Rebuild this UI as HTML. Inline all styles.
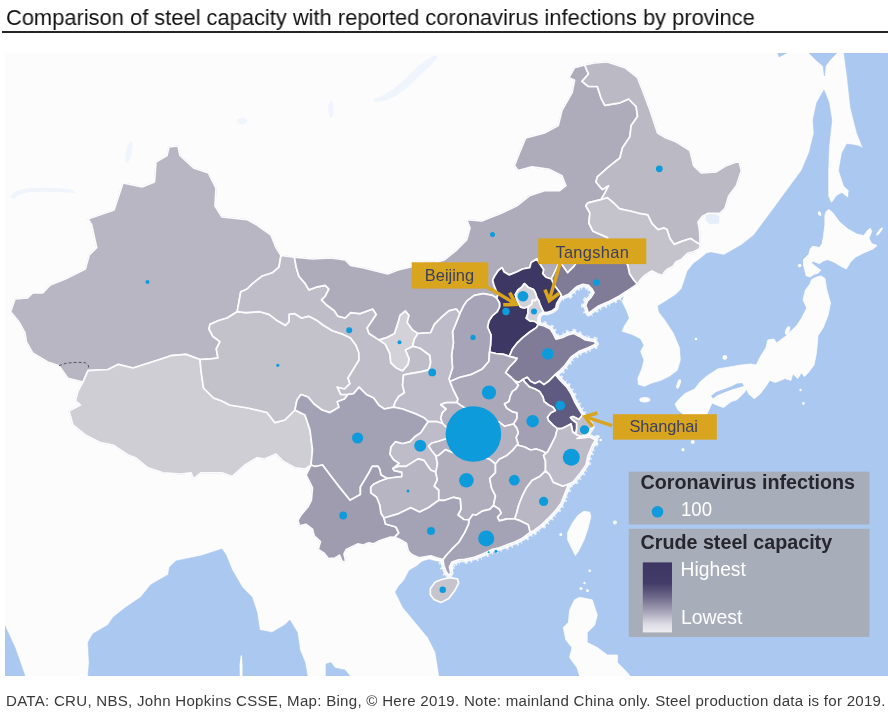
<!DOCTYPE html>
<html lang="en"><head><meta charset="utf-8"><title>Comparison of steel capacity with reported coronavirus infections by province</title>
<style>
html,body{margin:0;padding:0;background:#fff;}
body{width:888px;height:717px;position:relative;overflow:hidden;font-family:"Liberation Sans",Arial,sans-serif;}
#title{will-change:transform;transform:scaleX(0.9767);transform-origin:0 0;position:absolute;left:5.6px;top:4.9px;font-size:22.4px;line-height:26px;color:#111;white-space:nowrap;letter-spacing:0px;}
#rule{position:absolute;left:1.5px;top:31.1px;width:886.5px;height:1.8px;background:#262626;}
#map{will-change:transform;position:absolute;left:0;top:0;width:888px;height:717px;}
#foot{will-change:transform;position:absolute;left:5.5px;top:691.9px;font-size:15.05px;letter-spacing:0.283px;line-height:18px;color:#3a3a3a;white-space:nowrap;}
svg text{font-family:"Liberation Sans",Arial,sans-serif;}
</style></head><body>
<div id="title">Comparison of steel capacity with reported coronavirus infections by province</div>
<div id="rule"></div>
<svg id="map" viewBox="0 0 888 717" width="888" height="717">
<defs><clipPath id="mc"><rect x="5" y="53" width="883" height="623"/></clipPath>
<linearGradient id="sw" x1="0" y1="0" x2="0" y2="1"><stop offset="0" stop-color="#3d3663"/><stop offset="0.3" stop-color="#433c69"/><stop offset="0.5" stop-color="#6f6a8a"/><stop offset="0.7" stop-color="#a6a2b8"/><stop offset="0.88" stop-color="#dcdae3"/><stop offset="1" stop-color="#efeef3"/></linearGradient>
<filter id="soft" x="-2%" y="-2%" width="104%" height="104%"><feGaussianBlur stdDeviation="0.55"/></filter>
</defs>
<g clip-path="url(#mc)">
<rect x="5" y="53" width="883" height="623" fill="#fcfcfd"/>
<g filter="url(#soft)">
<g fill="#abc8f0" stroke="#abc8f0" stroke-width="0.6" stroke-linejoin="round">
<polygon points="888.0,53.0 844.0,53.0 847.0,75.0 850.6,107.8 857.0,133.0 863.0,148.0 857.0,145.5 847.0,144.0 842.0,153.0 839.0,170.6 844.0,185.7 849.0,190.7 848.0,198.0 842.0,193.0 836.8,195.8 831.8,203.0 830.5,202.0 828.0,195.8 828.0,170.6 829.0,145.5 831.8,120.3 829.0,102.8 824.0,90.0 816.7,102.8 813.0,120.0 814.0,133.0 809.0,153.0 801.6,170.6 786.6,190.7 774.0,208.0 761.4,225.0 754.0,235.0 741.4,245.0 723.8,255.0 711.2,252.6 706.9,253.3 699.5,259.2 693.6,263.6 687.6,271.0 684.7,279.9 681.7,288.8 675.8,294.7 666.9,300.6 658.0,306.0 659.0,311.8 665.3,320.0 673.7,332.8 680.0,347.4 681.0,360.0 677.9,370.4 669.5,376.7 661.0,380.9 650.7,384.0 644.4,387.0 638.0,385.0 637.0,378.8 641.3,368.3 643.3,360.0 640.0,351.6 643.3,345.3 640.0,339.0 631.8,334.9 621.4,331.7 623.5,326.5 628.7,318.0 625.6,309.7 621.4,301.4 625.6,291.0 631.0,288.5 612.0,285.0 585.0,272.0 560.0,280.0 540.0,300.0 530.0,318.0 535.0,335.0 560.0,350.0 555.0,380.0 570.0,420.0 575.0,438.0 570.0,480.0 540.0,520.0 500.0,540.0 460.0,555.0 446.0,558.0 444.0,562.0 436.6,561.5 428.8,559.5 422.0,561.8 416.1,566.6 409.3,570.5 404.4,580.0 399.0,586.0 395.4,592.0 403.0,607.4 415.5,622.4 428.0,637.5 435.6,652.6 439.3,676.0 888.0,676.0"/>
<polygon points="809.0,53.0 836.8,53.0 830.0,60.0 825.5,66.0 824.5,76.0 823.0,66.0 816.0,60.0"/>
<polygon points="777.8,53.0 786.6,53.0 779.0,57.0"/>
<polygon points="222.0,549.0 201.0,555.8 176.0,560.9 169.6,567.0 168.3,574.7 150.8,584.7 140.7,597.3 125.6,607.4 113.0,617.4 108.0,625.0 93.0,633.7 88.0,642.5 89.2,662.6 88.0,676.0 307.4,676.0 305.0,662.6 299.9,650.0 297.4,632.5 289.8,620.0 284.8,625.0 272.0,632.5 259.7,630.0 257.0,612.4 252.0,597.3 242.0,587.0 232.0,569.7 226.0,555.0"/>
<polygon points="5.0,626.0 15.0,647.6 25.0,676.0 5.0,676.0"/>
<polygon points="326.0,676.0 326.0,664.0 331.0,662.6 335.0,668.0 345.0,670.0 350.0,676.0"/>
</g>
<g fill="#f0f4fc">
<polygon points="706.0,214.5 713.0,213.5 719.5,216.0 719.0,223.5 710.0,224.5 705.5,220.0" fill="#e6eefa"/>
<polygon points="373,99 380,97 392,90 404,80 416,68 426,60 435,55 438,57 430,66 420,75 408,87 396,96 384,101 375,102"/>
<path d="M10 197 Q14 189 30 188 Q55 187 74 190 L75 193 Q52 191 32 192 Q18 193 14 199 Z"/>
<ellipse cx="129" cy="152" rx="3" ry="11" transform="rotate(12 129 152)"/>
<ellipse cx="331" cy="109" rx="2.6" ry="9"/>
<ellipse cx="242" cy="121" rx="5" ry="3.4"/>
</g>
<g fill="#fcfcfd" stroke="#fcfcfd" stroke-width="0.8" stroke-linejoin="round">
<polygon points="828.9,209.4 832.9,212.8 839.6,222.1 847.6,228.8 857.0,234.2 863.7,235.5 867.7,230.2 870.4,228.2 871.7,231.5 869.0,238.2 871.7,243.5 877.1,245.6 873.1,248.9 863.7,252.9 855.7,256.9 850.3,262.3 846.3,269.0 840.9,266.3 834.3,262.3 827.6,259.6 823.5,260.9 819.5,263.6 815.5,262.3 812.8,260.9 811.5,263.0 815.5,266.3 820.9,270.3 818.2,273.0 814.2,274.3 810.2,277.0 806.1,275.7 804.8,270.3 803.5,265.0 803.5,259.6 808.8,254.3 810.2,248.9 812.8,246.2 819.5,247.6 822.2,243.5 823.5,235.5 824.9,224.8 824.9,215.4 826.2,211.4"/>
<polygon points="815.5,277.4 820.9,275.9 824.9,278.4 826.8,290.0 830.5,303.0 828.0,315.5 823.0,328.0 818.0,335.6 816.7,350.0 816.0,355.4 814.0,365.0 808.2,372.7 804.4,376.6 801.5,372.7 797.7,378.5 792.8,373.7 790.9,380.4 785.1,378.5 775.5,382.4 769.7,380.4 765.9,386.2 760.1,393.9 754.3,398.7 748.6,393.9 746.6,389.0 744.7,392.0 737.0,399.7 731.2,401.6 723.5,407.4 717.8,405.5 712.0,403.0 710.0,407.4 706.0,416.0 700.0,425.0 693.0,432.0 688.0,425.0 683.0,414.0 678.0,410.0 675.0,404.0 679.3,399.0 685.0,393.5 694.7,389.0 700.0,382.0 706.2,376.6 717.8,368.9 729.3,367.0 740.9,365.0 750.5,364.0 756.3,365.0 760.0,357.3 765.9,347.7 767.8,340.0 774.0,339.0 776.5,343.0 786.6,335.6 796.7,325.5 801.7,318.0 806.7,308.0 803.0,300.0 805.4,290.0 810.0,284.0 811.5,279.7"/>
<polygon points="584.0,511.2 589.8,512.2 590.8,517.0 587.9,528.6 584.0,540.1 578.2,551.7 575.4,555.5 571.5,547.8 567.7,540.1 567.7,532.4 572.5,522.8 578.2,515.1"/>
<polygon points="579.7,597.3 592.2,599.8 597.3,614.9 594.7,625.0 587.2,632.5 587.2,642.5 597.3,647.6 607.3,655.0 617.4,655.0 617.4,662.6 627.4,672.7 630.0,676.0 579.7,676.0 577.0,667.7 569.6,657.6 572.0,647.6 565.9,640.0 563.3,627.5 568.4,622.4 569.6,610.0 574.6,599.8"/>
</g>
<polygon points="711.0,396.0 716.0,392.0 723.0,389.5 731.0,386.5 737.0,383.5 742.0,383.0 744.0,386.0 739.0,387.5 732.0,389.5 724.0,392.5 717.0,395.5 713.0,398.5" fill="#abc8f0"/>
<g fill="#fcfcfd">
<ellipse cx="644.8" cy="399.7" rx="5.6" ry="2.8"/>
<ellipse cx="678.6" cy="384" rx="1.8" ry="5" transform="rotate(18 678.6 384)"/>
<ellipse cx="787.6" cy="330.4" rx="2.1" ry="4.6" transform="rotate(22 787.6 330.4)"/><circle cx="724.8" cy="357.4" r="2.4"/><circle cx="696" cy="339" r="1.3"/>
<circle cx="692.7" cy="442" r="2"/><circle cx="683" cy="449.7" r="1.6"/><circle cx="803.4" cy="403.5" r="1.4"/><circle cx="800.5" cy="390" r="1.2"/>
<circle cx="581" cy="588.5" r="1.6"/><circle cx="587.5" cy="590.5" r="1.5"/><circle cx="584.5" cy="583" r="1.2"/>
<circle cx="598" cy="436.6" r="1.6"/><circle cx="600.6" cy="440" r="1.3"/><circle cx="597" cy="443.4" r="1.2"/>
<circle cx="614.9" cy="522.6" r="2"/><circle cx="560.8" cy="534.4" r="1.5"/><circle cx="589.7" cy="570.8" r="1.3"/><ellipse cx="819.6" cy="213.6" rx="1.5" ry="2.4" transform="rotate(-25 819.6 213.6)"/><circle cx="799.7" cy="265.6" r="1.8"/><ellipse cx="879.5" cy="231.5" rx="1.3" ry="5" transform="rotate(38 879.5 231.5)"/>
</g>
<polygon points="239.8,676 239.6,664 240.6,656 242,655 242.4,664 242.6,676" fill="#fcfcfd"/>
<g fill="none" stroke="#ffffff" stroke-linejoin="round" stroke-linecap="butt">
<polyline points="637.3,284.3 631.0,288.5 625.5,292.0 619.5,296.0 609.0,301.5 598.5,306.0 591.0,311.5 588.5,313.5 586.7,308.0 585.7,305.3 587.6,300.8 591.2,297.1 594.0,292.6 592.0,289.0 588.5,285.4 583.0,284.4 577.6,286.3 574.0,289.0 568.5,294.4 564.0,296.2 560.4,297.1" stroke-width="5.6" stroke-opacity="0.85"/>
<polyline points="560.4,297.1 556.7,303.5 555.8,308.0 552.2,310.7 546.8,312.6 543.5,312.0" stroke-width="5.6" stroke-opacity="0.85"/>
<polyline points="543.5,312.0 539.5,314.5 538.0,318.0 538.3,324.4" stroke-width="5.6" stroke-opacity="0.85"/>
<polyline points="538.3,324.4 544.4,326.0 550.3,329.0 553.2,333.5 556.1,339.3 562.0,337.8 567.8,334.9 573.7,333.5 579.6,336.4 585.4,340.0 594.2,341.5 596.0,343.9 588.2,347.7 578.6,351.6 570.9,357.3 565.1,365.0 559.4,371.0 555.3,374.5" stroke-width="5.6" stroke-opacity="0.85"/>
<polyline points="555.3,374.5 559.8,380.0 566.6,386.9 571.0,393.6 574.5,401.5 579.0,409.4 582.5,415.0" stroke-width="5.6" stroke-opacity="0.85"/>
<polyline points="582.5,415.0 588.0,420.0 592.0,427.0 588.0,433.0 581.0,436.5" stroke-width="5.6" stroke-opacity="0.85"/>
<polyline points="581.0,436.5 577.0,438.5 583.0,438.0 590.0,437.0 595.5,440.0 592.0,446.0 588.0,455.5 586.0,465.0 580.0,473.5 573.0,482.0 568.6,484.3" stroke-width="5.6" stroke-opacity="0.85"/>
<polyline points="568.6,484.3 564.8,493.9 560.9,503.5 555.1,511.2 549.4,517.0 541.7,524.7 534.0,530.5 530.1,532.4" stroke-width="5.6" stroke-opacity="0.85"/>
<polyline points="530.1,532.4 522.4,538.2 514.7,542.0 507.0,544.9 499.3,547.8 491.6,549.7 483.9,553.6 474.3,557.4 464.7,559.4 458.6,559.8 452.0,562.0 449.5,567.0 450.8,573.0 448.6,575.2 445.9,571.3 443.9,565.4 443.0,559.5" stroke-width="5.6" stroke-opacity="0.85"/>
<polyline points="443.0,559.5 436.6,557.9 430.8,555.9 424.9,556.9 419.0,557.9" stroke-width="5.6" stroke-opacity="0.85"/>
<polyline points="637.3,284.3 631.0,288.5 625.5,292.0 619.5,296.0 609.0,301.5 598.5,306.0 591.0,311.5 588.5,313.5 586.7,308.0 585.7,305.3 587.6,300.8 591.2,297.1 594.0,292.6 592.0,289.0 588.5,285.4 583.0,284.4 577.6,286.3 574.0,289.0 568.5,294.4 564.0,296.2 560.4,297.1" stroke-width="9.5" stroke-opacity="0.7" stroke-dasharray="1.5 3 2.5 5 1 2.5 2 4"/>
<polyline points="538.3,324.4 544.4,326.0 550.3,329.0 553.2,333.5 556.1,339.3 562.0,337.8 567.8,334.9 573.7,333.5 579.6,336.4 585.4,340.0 594.2,341.5 596.0,343.9 588.2,347.7 578.6,351.6 570.9,357.3 565.1,365.0 559.4,371.0 555.3,374.5" stroke-width="9.5" stroke-opacity="0.7" stroke-dasharray="1.5 3 2.5 5 1 2.5 2 4"/>
<polyline points="555.3,374.5 559.8,380.0 566.6,386.9 571.0,393.6 574.5,401.5 579.0,409.4 582.5,415.0" stroke-width="9.5" stroke-opacity="0.7" stroke-dasharray="1.5 3 2.5 5 1 2.5 2 4"/>
<polyline points="581.0,436.5 577.0,438.5 583.0,438.0 590.0,437.0 595.5,440.0 592.0,446.0 588.0,455.5 586.0,465.0 580.0,473.5 573.0,482.0 568.6,484.3" stroke-width="9.5" stroke-opacity="0.7" stroke-dasharray="1.5 3 2.5 5 1 2.5 2 4"/>
<polyline points="568.6,484.3 564.8,493.9 560.9,503.5 555.1,511.2 549.4,517.0 541.7,524.7 534.0,530.5 530.1,532.4" stroke-width="9.5" stroke-opacity="0.7" stroke-dasharray="1.5 3 2.5 5 1 2.5 2 4"/>
<polyline points="530.1,532.4 522.4,538.2 514.7,542.0 507.0,544.9 499.3,547.8 491.6,549.7 483.9,553.6 474.3,557.4 464.7,559.4 458.6,559.8 452.0,562.0 449.5,567.0 450.8,573.0 448.6,575.2 445.9,571.3 443.9,565.4 443.0,559.5" stroke-width="9.5" stroke-opacity="0.7" stroke-dasharray="1.5 3 2.5 5 1 2.5 2 4"/>
</g>
<g stroke-linejoin="round">
<polygon points="83.0,382.0 67.8,378.3 59.0,365.7 47.7,362.0 32.7,353.0 26.4,341.8 25.0,333.0 18.8,321.7 10.6,311.7 15.0,299.0 27.6,297.9 32.7,292.8 42.7,292.8 50.3,285.0 65.3,279.0 85.4,269.0 89.2,255.0 96.7,247.6 91.7,225.0 88.0,219.0 114.0,210.0 123.0,183.0 142.0,187.0 154.5,182.0 156.0,162.0 167.0,155.5 169.0,147.0 178.0,146.0 180.0,155.5 193.5,168.0 208.5,173.0 216.0,188.0 215.0,206.0 222.0,217.0 247.0,219.6 257.0,225.0 271.0,235.0 276.0,247.6 281.0,255.5 279.0,267.2 272.6,272.7 261.7,276.3 252.6,283.6 247.2,289.0 240.8,291.7 239.0,301.7 237.2,311.7 227.2,318.0 218.0,320.8 210.0,324.4 209.0,329.0 212.7,336.2 220.0,341.6 216.3,348.9 218.0,358.0 210.9,358.9 200.0,359.5 186.0,354.4 170.9,355.7 155.8,360.7 133.0,368.0 118.0,364.4 108.0,369.5 88.0,370.7" fill="#b5b3c0" stroke="#b5b3c0" stroke-width="1.2"/>
<polygon points="83.0,382.0 88.0,370.7 108.0,369.5 118.0,364.4 133.0,368.0 155.8,360.7 170.9,355.7 186.0,354.4 200.0,359.5 201.0,370.7 203.5,388.0 213.6,398.0 222.0,401.0 229.5,405.0 248.0,408.0 267.0,412.5 274.8,422.6 284.8,420.0 294.9,410.0 305.0,415.0 310.0,430.0 312.5,450.0 311.0,465.0 305.0,469.0 294.9,467.8 283.5,461.5 276.0,454.0 264.7,459.0 257.0,457.8 244.6,465.3 232.0,476.6 222.0,472.8 201.0,472.8 193.5,479.0 191.0,472.8 181.0,474.0 163.0,472.8 148.0,467.8 135.7,457.8 128.0,455.0 113.0,445.0 100.5,442.7 85.4,435.0 72.9,425.0 69.0,411.0 80.4,405.0 75.4,401.0 78.0,391.0" fill="#b5b3c0" stroke="#b5b3c0" stroke-width="1.2"/>
<polygon points="200.0,359.5 210.9,358.9 218.0,358.0 216.3,348.9 220.0,341.6 212.7,336.2 209.0,329.0 210.0,324.4 218.0,320.8 227.2,318.0 237.2,311.7 245.4,312.6 259.9,311.7 269.0,314.4 276.2,319.9 285.3,325.3 289.0,321.7 289.0,314.4 294.4,313.5 301.6,318.0 308.9,316.2 316.2,319.9 323.4,325.3 332.5,330.7 343.4,334.4 350.6,338.0 356.0,345.3 358.8,352.5 359.0,360.0 353.6,369.0 348.0,378.0 350.0,383.6 344.5,389.0 337.3,387.2 340.9,394.5 348.0,394.5 344.5,399.0 337.3,401.7 339.0,407.2 330.0,412.6 322.0,410.0 314.0,404.0 308.0,397.0 301.0,394.5 297.0,400.0 294.9,410.0 284.8,420.0 274.8,422.6 267.0,412.5 248.0,408.0 229.5,405.0 222.0,401.0 213.6,398.0 203.5,388.0 201.0,370.7" fill="#b5b3c0" stroke="#b5b3c0" stroke-width="1.2"/>
<polygon points="281.0,255.5 294.4,257.2 296.2,267.2 298.9,276.3 305.3,283.6 308.9,289.9 316.2,287.2 325.2,285.4 328.9,289.0 325.2,296.3 321.6,299.9 327.0,305.3 334.3,310.8 337.9,316.2 345.2,318.0 350.6,312.6 360.0,313.6 372.7,309.0 376.3,314.5 370.9,322.6 367.2,328.0 369.0,333.5 379.0,339.9 385.4,344.4 389.9,353.5 390.8,362.6 396.3,368.0 402.6,370.7 408.0,364.4 409.0,358.9 405.3,349.9 412.6,346.2 419.9,348.0 429.8,355.3 430.7,362.6 428.9,369.8 420.7,371.8 409.9,373.6 403.5,375.0 402.6,385.4 404.4,392.7 399.0,396.3 395.3,401.7 393.5,407.2 384.4,409.0 379.0,405.4 373.6,398.0 366.3,394.5 359.0,387.2 353.6,393.6 348.0,394.5 340.9,394.5 337.3,387.2 344.5,389.0 350.0,383.6 348.0,378.0 353.6,369.0 359.0,360.0 358.8,352.5 356.0,345.3 350.6,338.0 343.4,334.4 332.5,330.7 323.4,325.3 316.2,319.9 308.9,316.2 301.6,318.0 294.4,313.5 289.0,314.4 289.0,321.7 285.3,325.3 276.2,319.9 269.0,314.4 259.9,311.7 245.4,312.6 237.2,311.7 239.0,301.7 240.8,291.7 247.2,289.0 252.6,283.6 261.7,276.3 272.6,272.7 279.0,267.2" fill="#b5b3c0" stroke="#b5b3c0" stroke-width="1.2"/>
<polygon points="379.0,339.9 387.2,337.2 394.4,333.5 398.0,322.6 399.9,315.4 405.3,310.8 409.0,315.4 407.2,322.6 412.6,329.9 418.0,333.5 414.4,339.0 412.6,346.2 405.3,349.9 409.0,358.9 408.0,364.4 402.6,370.7 396.3,368.0 390.8,362.6 389.9,353.5 385.4,344.4" fill="#b5b3c0" stroke="#b5b3c0" stroke-width="1.2"/>
<polygon points="294.4,257.2 312.5,259.0 330.7,258.0 345.2,260.0 350.6,265.4 362.7,267.7 377.8,271.5 387.8,274.0 397.9,270.0 413.0,266.5 425.0,262.0 437.0,262.0 444.0,260.0 456.6,250.0 466.6,240.0 470.0,228.0 466.6,219.6 481.7,221.0 501.8,213.0 516.9,205.8 529.4,195.8 544.5,190.7 559.6,190.7 565.9,185.7 562.0,175.7 549.5,169.4 532.0,166.9 518.0,170.6 514.4,165.6 519.4,153.0 525.7,138.0 544.5,133.0 558.3,125.4 562.0,110.3 572.1,92.7 574.6,80.2 568.9,77.7 574.6,67.6 584.7,65.0 588.5,74.0 582.0,81.4 588.5,86.5 597.3,86.5 601.0,97.8 604.8,105.3 620.0,102.8 628.7,99.0 636.2,106.6 637.5,116.6 631.2,125.4 629.9,136.7 622.4,148.0 619.9,158.0 608.6,166.9 597.3,176.9 596.0,182.0 602.3,189.5 608.6,185.7 604.8,193.2 601.0,199.7 587.9,202.8 585.8,205.8 589.9,213.0 588.9,223.0 593.0,231.3 607.2,237.4 612.0,244.0 600.0,247.0 590.0,252.0 578.0,260.0 574.0,266.3 567.6,272.7 563.0,266.3 560.0,262.0 557.6,266.0 551.3,279.0 545.9,277.2 542.7,273.6 543.6,269.5 541.3,266.3 536.8,259.0 531.2,262.4 529.8,267.6 522.5,269.0 516.6,272.0 509.3,274.9 504.2,272.0 502.0,267.6 498.3,270.5 494.5,276.3 492.7,280.0 494.0,285.4 496.3,290.9 498.0,294.5 496.8,298.3 492.5,295.4 483.4,293.6 474.3,295.4 467.0,300.9 463.4,306.3 459.8,313.6 456.2,309.0 448.9,310.8 441.6,317.2 434.4,324.4 430.7,332.6 418.0,333.5 412.6,329.9 407.2,322.6 409.0,315.4 405.3,310.8 399.9,315.4 398.0,322.6 394.4,333.5 387.2,337.2 379.0,339.9 369.0,333.5 367.2,328.0 370.9,322.6 376.3,314.5 372.7,309.0 360.0,313.6 350.6,312.6 345.2,318.0 337.9,316.2 334.3,310.8 327.0,305.3 321.6,299.9 325.2,296.3 328.9,289.0 325.2,285.4 316.2,287.2 308.9,289.9 305.3,283.6 298.9,276.3 296.2,267.2" fill="#b5b3c0" stroke="#b5b3c0" stroke-width="1.2"/>
<polygon points="584.7,65.0 594.7,63.0 607.3,62.0 624.9,67.6 637.5,77.7 642.5,90.2 650.0,110.3 657.6,133.0 666.0,138.0 676.0,141.7 689.9,150.5 693.6,165.6 701.2,173.0 716.3,171.9 726.3,165.6 738.9,161.0 741.4,170.6 736.4,185.7 728.8,195.8 725.0,208.3 720.0,213.0 708.3,213.3 702.4,216.3 698.0,222.0 699.5,229.6 700.2,244.4 695.0,241.4 690.6,238.5 681.7,241.4 674.3,244.4 669.9,238.5 667.0,229.6 664.0,228.0 658.0,229.6 652.0,223.7 647.7,214.8 638.8,213.3 630.0,211.0 619.6,208.9 613.7,203.0 607.2,197.7 601.0,199.7 604.8,193.2 608.6,185.7 602.3,189.5 596.0,182.0 597.3,176.9 608.6,166.9 619.9,158.0 622.4,148.0 629.9,136.7 631.2,125.4 637.5,116.6 636.2,106.6 628.7,99.0 620.0,102.8 604.8,105.3 601.0,97.8 597.3,86.5 588.5,86.5 582.0,81.4 588.5,74.0" fill="#b5b3c0" stroke="#b5b3c0" stroke-width="1.2"/>
<polygon points="601.0,199.7 607.2,197.7 613.7,203.0 619.6,208.9 630.0,211.0 638.8,213.3 647.7,214.8 652.0,223.7 658.0,229.6 664.0,228.0 667.0,229.6 669.9,238.5 674.3,244.4 681.7,241.4 690.6,238.5 695.0,241.4 700.2,244.4 699.5,248.8 693.6,251.8 687.6,253.3 684.7,256.2 681.7,259.2 675.8,262.0 672.8,266.6 666.9,269.5 664.0,272.5 663.2,275.4 658.0,274.0 652.0,271.0 649.2,272.5 644.7,275.4 640.3,279.9 637.3,284.3 633.7,280.0 629.6,274.0 627.6,264.9 620.0,254.0 612.0,244.0 607.2,237.4 593.0,231.3 588.9,223.0 589.9,213.0 585.8,205.8 587.9,202.8" fill="#b5b3c0" stroke="#b5b3c0" stroke-width="1.2"/>
<polygon points="551.3,279.0 557.6,266.0 560.0,262.0 563.0,266.3 567.6,272.7 574.0,266.3 578.0,260.0 590.0,252.0 600.0,247.0 612.0,244.0 620.0,254.0 627.6,264.9 629.6,274.0 633.7,280.0 637.3,284.3 631.0,288.5 625.5,292.0 619.5,296.0 609.0,301.5 598.5,306.0 591.0,311.5 588.5,313.5 586.7,308.0 585.7,305.3 587.6,300.8 591.2,297.1 594.0,292.6 592.0,289.0 588.5,285.4 583.0,284.4 577.6,286.3 574.0,289.0 568.5,294.4 564.0,296.2 560.4,297.1 561.3,295.3 558.5,290.8 555.0,286.3 553.0,282.6" fill="#b5b3c0" stroke="#b5b3c0" stroke-width="1.2"/>
<polygon points="496.8,298.3 498.0,294.5 496.3,290.9 494.0,285.4 492.7,280.0 494.5,276.3 498.3,270.5 502.0,267.6 504.2,272.0 509.3,274.9 516.6,272.0 522.5,269.0 529.8,267.6 531.2,262.4 536.8,259.0 541.3,266.3 543.6,269.5 542.7,273.6 545.9,277.2 551.3,279.0 553.0,282.6 555.0,286.3 558.5,290.8 561.3,295.3 560.4,297.1 556.7,303.5 555.8,308.0 552.2,310.7 546.8,312.6 543.5,312.0 541.6,308.0 539.8,304.0 538.9,300.8 537.0,298.0 535.3,292.7 533.5,289.5 528.0,287.2 524.4,283.6 521.7,287.2 518.0,290.0 515.3,294.5 517.0,300.0 519.0,304.5 520.8,307.2 524.4,308.0 529.0,306.3 528.0,309.0 528.0,313.5 526.2,318.0 529.8,320.8 535.3,321.5 538.3,324.4 536.4,327.6 529.8,332.0 522.5,337.8 516.6,343.7 512.2,349.6 509.3,356.4 503.5,354.4 495.8,353.5 489.5,352.0 490.5,345.2 491.0,335.0 487.5,327.0 489.0,320.8 492.7,315.3 497.2,311.7 499.5,307.0 499.5,303.0" fill="#b5b3c0" stroke="#b5b3c0" stroke-width="1.2"/>
<polygon points="537.0,298.0 535.3,292.7 533.5,289.5 528.0,287.2 524.4,283.6 521.7,287.2 518.0,290.0 515.3,294.5 517.0,300.0 519.0,304.5 520.8,307.2 524.4,308.0 529.0,306.3 531.6,304.5 532.6,300.0 535.3,300.8" fill="#b5b3c0" stroke="#b5b3c0" stroke-width="1.2"/>
<polygon points="537.0,298.0 538.9,300.8 539.8,304.0 541.6,308.0 543.5,312.0 539.5,314.5 538.0,318.0 538.3,324.4 535.3,321.5 529.8,320.8 526.2,318.0 528.0,313.5 528.0,309.0 529.0,306.3 531.6,304.5 532.6,300.0 535.3,300.8" fill="#b5b3c0" stroke="#b5b3c0" stroke-width="1.2"/>
<polygon points="459.8,313.6 463.4,306.3 467.0,300.9 474.3,295.4 483.4,293.6 492.5,295.4 496.8,298.3 499.5,303.0 499.5,307.0 497.2,311.7 492.7,315.3 489.0,320.8 487.5,327.0 491.0,335.0 490.5,345.2 489.5,352.0 489.0,361.2 482.4,368.9 470.8,374.7 459.3,377.5 450.0,381.5 448.9,378.9 452.5,368.0 451.6,355.3 453.4,342.6 452.5,331.7 456.2,322.6" fill="#b5b3c0" stroke="#b5b3c0" stroke-width="1.2"/>
<polygon points="418.0,333.5 430.7,332.6 434.4,324.4 441.6,317.2 448.9,310.8 456.2,309.0 459.8,313.6 456.2,322.6 452.5,331.7 453.4,342.6 451.6,355.3 452.5,368.0 448.9,378.9 450.0,381.5 453.4,390.0 458.0,399.0 457.0,402.6 446.2,402.6 440.7,404.5 446.2,409.0 442.5,412.6 440.7,418.0 442.5,423.5 437.0,421.7 428.0,421.7 424.4,418.0 417.0,414.4 409.9,411.7 402.6,409.0 393.5,407.2 395.3,401.7 399.0,396.3 404.4,392.7 402.6,385.4 403.5,375.0 409.9,373.6 420.7,371.8 428.9,369.8 430.7,362.6 429.8,355.3 419.9,348.0 412.6,346.2 414.4,339.0" fill="#b5b3c0" stroke="#b5b3c0" stroke-width="1.2"/>
<polygon points="538.3,324.4 544.4,326.0 550.3,329.0 553.2,333.5 556.1,339.3 562.0,337.8 567.8,334.9 573.7,333.5 579.6,336.4 585.4,340.0 594.2,341.5 596.0,343.9 588.2,347.7 578.6,351.6 570.9,357.3 565.1,365.0 559.4,371.0 555.3,374.5 553.0,376.8 548.6,381.3 544.0,384.6 539.5,381.3 535.0,383.5 530.5,381.3 527.2,377.3 523.0,379.5 519.0,382.2 515.1,381.4 511.2,377.5 505.5,372.7 509.3,367.0 515.1,361.2 517.0,358.3 509.3,356.4 512.2,349.6 516.6,343.7 522.5,337.8 529.8,332.0 536.4,327.6" fill="#b5b3c0" stroke="#b5b3c0" stroke-width="1.2"/>
<polygon points="489.5,352.0 495.8,353.5 503.5,354.4 509.3,356.4 517.0,358.3 515.1,361.2 509.3,367.0 505.5,372.7 511.2,377.5 515.1,381.4 518.5,385.0 516.0,389.0 512.5,391.4 510.3,396.0 509.0,401.5 504.6,403.8 506.9,408.3 512.5,411.7 517.0,412.8 517.0,418.4 513.6,424.0 504.6,426.3 499.0,421.8 493.0,425.0 485.0,425.0 475.0,418.0 468.0,410.0 460.7,405.4 457.0,402.6 458.0,399.0 453.4,390.0 450.0,381.5 459.3,377.5 470.8,374.7 482.4,368.9 489.0,361.2" fill="#b5b3c0" stroke="#b5b3c0" stroke-width="1.2"/>
<polygon points="555.3,374.5 559.8,380.0 566.6,386.9 571.0,393.6 574.5,401.5 579.0,409.4 582.5,415.0 579.0,419.5 573.0,416.5 570.5,417.5 572.2,419.5 576.7,423.0 576.7,428.6 576.0,433.0 572.8,432.4 571.0,424.0 566.6,426.3 562.0,428.6 557.4,428.6 553.0,425.2 548.6,420.7 547.4,417.3 550.8,412.8 555.3,410.5 553.0,407.2 548.6,405.0 544.0,401.5 543.0,397.0 539.5,391.4 535.0,389.0 529.4,386.9 525.0,382.4 523.0,379.5 527.2,377.3 530.5,381.3 535.0,383.5 539.5,381.3 544.0,384.6 548.6,381.3 553.0,376.8" fill="#b5b3c0" stroke="#b5b3c0" stroke-width="1.2"/>
<polygon points="582.5,415.0 588.0,420.0 592.0,427.0 588.0,433.0 581.0,436.5 577.0,435.0 572.8,432.4 576.0,433.0 576.7,428.6 576.7,423.0 572.2,419.5 570.5,417.5 573.0,416.5 579.0,419.5" fill="#b5b3c0" stroke="#b5b3c0" stroke-width="1.2"/>
<polygon points="515.1,381.4 519.0,382.2 523.0,379.5 525.0,382.4 529.4,386.9 535.0,389.0 539.5,391.4 543.0,397.0 544.0,401.5 548.6,405.0 553.0,407.2 555.3,410.5 550.8,412.8 547.4,417.3 548.6,420.7 553.0,425.2 557.4,428.6 555.5,436.3 551.7,444.0 547.8,451.7 546.0,453.0 542.0,451.0 536.3,449.0 530.5,450.0 524.7,447.0 517.0,445.0 518.2,444.3 516.0,437.6 518.2,433.0 517.0,428.6 513.6,424.0 517.0,418.4 517.0,412.8 512.5,411.7 506.9,408.3 504.6,403.8 509.0,401.5 510.3,396.0 512.5,391.4 516.0,389.0 518.5,385.0" fill="#b5b3c0" stroke="#b5b3c0" stroke-width="1.2"/>
<polygon points="442.5,423.5 440.7,418.0 442.5,412.6 446.2,409.0 440.7,404.5 446.2,402.6 457.0,402.6 460.7,405.4 468.0,410.0 475.0,418.0 485.0,425.0 493.0,425.0 499.0,421.8 504.6,426.3 513.6,424.0 517.0,428.6 518.2,433.0 516.0,437.6 518.2,444.3 517.0,445.0 513.0,450.0 507.0,455.4 499.3,459.3 495.5,464.0 489.7,459.3 482.0,457.0 470.0,458.0 455.0,453.5 445.4,449.6 438.7,455.4 436.0,456.0 431.6,450.7 428.5,446.0 431.6,443.0 438.9,441.0 448.0,438.0 447.0,428.0" fill="#b5b3c0" stroke="#b5b3c0" stroke-width="1.2"/>
<polygon points="428.0,421.7 437.0,421.7 442.5,423.5 447.0,428.0 448.0,438.0 438.9,441.0 431.6,443.0 428.5,446.0 431.6,450.7 436.0,456.0 437.5,464.0 435.8,472.2 430.6,470.0 426.9,464.8 424.0,460.4 418.0,458.9 412.1,462.6 406.2,466.3 398.8,466.3 392.9,468.5 399.0,463.4 393.5,459.8 389.9,454.4 390.8,447.0 395.3,441.7 402.6,443.5 409.9,441.7 415.3,436.2 420.7,432.6 424.4,427.0" fill="#b5b3c0" stroke="#b5b3c0" stroke-width="1.2"/>
<polygon points="348.0,394.5 353.6,393.6 359.0,387.2 366.3,394.5 373.6,398.0 379.0,405.4 384.4,409.0 393.5,407.2 402.6,409.0 409.9,411.7 417.0,414.4 424.4,418.0 428.0,421.7 424.4,427.0 420.7,432.6 415.3,436.2 409.9,441.7 402.6,443.5 395.3,441.7 390.8,447.0 389.9,454.4 393.5,459.8 399.0,463.4 392.9,468.5 394.4,470.7 401.8,472.2 401.8,476.6 394.0,477.5 387.0,478.5 385.5,477.4 381.0,475.0 379.6,469.2 378.0,466.3 372.2,466.3 369.2,472.2 364.8,479.6 360.4,487.0 360.4,494.4 350.0,500.3 340.0,487.9 330.0,475.0 322.5,465.0 315.0,466.5 311.0,465.0 312.5,450.0 310.0,430.0 305.0,415.0 294.9,410.0 297.0,400.0 301.0,394.5 308.0,397.0 314.0,404.0 322.0,410.0 330.0,412.6 339.0,407.2 337.3,401.7 344.5,399.0" fill="#b5b3c0" stroke="#b5b3c0" stroke-width="1.2"/>
<polygon points="392.9,468.5 398.8,466.3 406.2,466.3 412.1,462.6 418.0,458.9 424.0,460.4 426.9,464.8 430.6,470.0 435.8,472.2 437.3,479.6 434.3,486.2 438.8,490.0 438.8,500.3 428.4,507.7 419.5,512.1 410.7,507.7 398.8,513.6 384.0,518.0 381.0,513.6 379.6,504.7 376.6,497.3 370.7,492.9 370.7,487.0 373.7,484.0 380.0,481.0 387.0,478.5 394.0,477.5 401.8,476.6 401.8,472.2 394.4,470.7" fill="#b5b3c0" stroke="#b5b3c0" stroke-width="1.2"/>
<polygon points="387.0,478.5 380.0,481.0 373.7,484.0 370.7,487.0 370.7,492.9 376.6,497.3 379.6,504.7 381.0,513.6 384.0,518.0 385.5,524.0 395.9,527.0 398.8,532.8 394.4,537.3 390.0,537.2 380.0,540.5 373.3,543.9 368.8,542.8 363.2,545.0 357.6,543.9 353.0,546.2 346.3,549.5 344.0,554.0 345.7,561.4 342.4,561.9 339.5,555.2 335.0,558.0 328.3,558.6 323.8,552.9 318.2,549.5 320.4,541.7 314.2,536.0 312.5,529.3 305.8,524.2 299.6,525.9 297.9,520.3 301.3,514.6 308.0,506.8 311.4,500.0 312.5,487.9 306.0,475.0 311.0,465.0 315.0,466.5 322.5,465.0 330.0,475.0 340.0,487.9 350.0,500.3 360.4,494.4 360.4,487.0 364.8,479.6 369.2,472.2 372.2,466.3 378.0,466.3 379.6,469.2 381.0,475.0 385.5,477.4" fill="#b5b3c0" stroke="#b5b3c0" stroke-width="1.2"/>
<polygon points="436.0,456.0 438.7,455.4 445.4,449.6 455.0,453.5 470.0,458.0 482.0,457.0 489.7,459.3 495.5,464.0 495.5,472.7 489.7,478.5 491.6,488.1 495.5,495.8 493.5,505.5 489.7,509.3 482.0,511.2 476.2,515.1 472.8,514.5 469.0,520.0 463.9,519.5 458.0,515.0 461.0,509.2 460.2,498.8 453.6,497.3 444.7,500.3 438.8,500.3 438.8,490.0 434.3,486.2 437.3,479.6 435.8,472.2 437.5,464.0" fill="#b5b3c0" stroke="#b5b3c0" stroke-width="1.2"/>
<polygon points="495.5,464.0 499.3,459.3 507.0,455.4 513.0,450.0 517.0,445.0 524.7,447.0 530.5,450.0 536.3,449.0 542.0,451.0 546.0,453.0 543.6,455.4 545.5,461.2 545.5,470.8 539.7,476.6 532.0,480.4 526.3,488.1 522.4,495.8 518.6,505.5 516.6,513.2 514.7,518.9 507.0,518.9 499.3,520.9 497.4,517.0 501.2,513.2 499.3,509.3 493.5,505.5 495.5,495.8 491.6,488.1 489.7,478.5 495.5,472.7" fill="#b5b3c0" stroke="#b5b3c0" stroke-width="1.2"/>
<polygon points="581.0,436.5 577.0,438.5 583.0,438.0 590.0,437.0 595.5,440.0 592.0,446.0 588.0,455.5 586.0,465.0 580.0,473.5 573.0,482.0 568.6,484.3 562.8,486.2 553.2,482.4 549.4,474.7 545.5,470.8 545.5,461.2 543.6,455.4 546.0,453.0 547.8,451.7 551.7,444.0 555.5,436.3 557.4,428.6 562.0,428.6 566.6,426.3 571.0,424.0 572.8,432.4 577.0,435.0" fill="#b5b3c0" stroke="#b5b3c0" stroke-width="1.2"/>
<polygon points="568.6,484.3 564.8,493.9 560.9,503.5 555.1,511.2 549.4,517.0 541.7,524.7 534.0,530.5 530.1,532.4 528.2,524.7 520.5,520.9 514.7,518.9 516.6,513.2 518.6,505.5 522.4,495.8 526.3,488.1 532.0,480.4 539.7,476.6 545.5,470.8 549.4,474.7 553.2,482.4 562.8,486.2" fill="#b5b3c0" stroke="#b5b3c0" stroke-width="1.2"/>
<polygon points="530.1,532.4 522.4,538.2 514.7,542.0 507.0,544.9 499.3,547.8 491.6,549.7 483.9,553.6 474.3,557.4 464.7,559.4 458.6,559.8 452.0,562.0 449.5,567.0 450.8,573.0 448.6,575.2 445.9,571.3 443.9,565.4 443.0,559.5 445.5,556.0 451.2,549.7 458.9,542.0 464.7,532.4 468.5,524.0 469.0,520.0 472.8,514.5 476.2,515.1 482.0,511.2 489.7,509.3 493.5,505.5 499.3,509.3 501.2,513.2 497.4,517.0 499.3,520.9 507.0,518.9 514.7,518.9 520.5,520.9 528.2,524.7" fill="#b5b3c0" stroke="#b5b3c0" stroke-width="1.2"/>
<polygon points="443.0,559.5 436.6,557.9 430.8,555.9 424.9,556.9 419.0,557.9 412.2,554.9 408.3,551.0 406.4,543.2 399.5,539.3 394.4,537.3 398.8,532.8 395.9,527.0 385.5,524.0 384.0,518.0 398.8,513.6 410.7,507.7 419.5,512.1 428.4,507.7 438.8,500.3 444.7,500.3 453.6,497.3 460.2,498.8 461.0,509.2 458.0,515.0 463.9,519.5 469.0,520.0 468.5,524.0 464.7,532.4 458.9,542.0 451.2,549.7 445.5,556.0" fill="#b5b3c0" stroke="#b5b3c0" stroke-width="1.2"/>
<polygon points="430.3,588.8 435.2,582.0 443.0,579.0 450.8,577.6 457.6,579.0 458.6,583.0 454.7,590.8 448.8,598.6 441.0,602.5 434.2,599.6 430.3,594.7" fill="#b5b3c0" stroke="#b5b3c0" stroke-width="1.2"/>
</g>
<g stroke="#fcfcfe" stroke-width="1.7" stroke-linejoin="round">
<polygon points="83.0,382.0 67.8,378.3 59.0,365.7 47.7,362.0 32.7,353.0 26.4,341.8 25.0,333.0 18.8,321.7 10.6,311.7 15.0,299.0 27.6,297.9 32.7,292.8 42.7,292.8 50.3,285.0 65.3,279.0 85.4,269.0 89.2,255.0 96.7,247.6 91.7,225.0 88.0,219.0 114.0,210.0 123.0,183.0 142.0,187.0 154.5,182.0 156.0,162.0 167.0,155.5 169.0,147.0 178.0,146.0 180.0,155.5 193.5,168.0 208.5,173.0 216.0,188.0 215.0,206.0 222.0,217.0 247.0,219.6 257.0,225.0 271.0,235.0 276.0,247.6 281.0,255.5 279.0,267.2 272.6,272.7 261.7,276.3 252.6,283.6 247.2,289.0 240.8,291.7 239.0,301.7 237.2,311.7 227.2,318.0 218.0,320.8 210.0,324.4 209.0,329.0 212.7,336.2 220.0,341.6 216.3,348.9 218.0,358.0 210.9,358.9 200.0,359.5 186.0,354.4 170.9,355.7 155.8,360.7 133.0,368.0 118.0,364.4 108.0,369.5 88.0,370.7" fill="#b8b6c2"/>
<polygon points="83.0,382.0 88.0,370.7 108.0,369.5 118.0,364.4 133.0,368.0 155.8,360.7 170.9,355.7 186.0,354.4 200.0,359.5 201.0,370.7 203.5,388.0 213.6,398.0 222.0,401.0 229.5,405.0 248.0,408.0 267.0,412.5 274.8,422.6 284.8,420.0 294.9,410.0 305.0,415.0 310.0,430.0 312.5,450.0 311.0,465.0 305.0,469.0 294.9,467.8 283.5,461.5 276.0,454.0 264.7,459.0 257.0,457.8 244.6,465.3 232.0,476.6 222.0,472.8 201.0,472.8 193.5,479.0 191.0,472.8 181.0,474.0 163.0,472.8 148.0,467.8 135.7,457.8 128.0,455.0 113.0,445.0 100.5,442.7 85.4,435.0 72.9,425.0 69.0,411.0 80.4,405.0 75.4,401.0 78.0,391.0" fill="#cfced5"/>
<polygon points="200.0,359.5 210.9,358.9 218.0,358.0 216.3,348.9 220.0,341.6 212.7,336.2 209.0,329.0 210.0,324.4 218.0,320.8 227.2,318.0 237.2,311.7 245.4,312.6 259.9,311.7 269.0,314.4 276.2,319.9 285.3,325.3 289.0,321.7 289.0,314.4 294.4,313.5 301.6,318.0 308.9,316.2 316.2,319.9 323.4,325.3 332.5,330.7 343.4,334.4 350.6,338.0 356.0,345.3 358.8,352.5 359.0,360.0 353.6,369.0 348.0,378.0 350.0,383.6 344.5,389.0 337.3,387.2 340.9,394.5 348.0,394.5 344.5,399.0 337.3,401.7 339.0,407.2 330.0,412.6 322.0,410.0 314.0,404.0 308.0,397.0 301.0,394.5 297.0,400.0 294.9,410.0 284.8,420.0 274.8,422.6 267.0,412.5 248.0,408.0 229.5,405.0 222.0,401.0 213.6,398.0 203.5,388.0 201.0,370.7" fill="#c3c2cb"/>
<polygon points="281.0,255.5 294.4,257.2 296.2,267.2 298.9,276.3 305.3,283.6 308.9,289.9 316.2,287.2 325.2,285.4 328.9,289.0 325.2,296.3 321.6,299.9 327.0,305.3 334.3,310.8 337.9,316.2 345.2,318.0 350.6,312.6 360.0,313.6 372.7,309.0 376.3,314.5 370.9,322.6 367.2,328.0 369.0,333.5 379.0,339.9 385.4,344.4 389.9,353.5 390.8,362.6 396.3,368.0 402.6,370.7 408.0,364.4 409.0,358.9 405.3,349.9 412.6,346.2 419.9,348.0 429.8,355.3 430.7,362.6 428.9,369.8 420.7,371.8 409.9,373.6 403.5,375.0 402.6,385.4 404.4,392.7 399.0,396.3 395.3,401.7 393.5,407.2 384.4,409.0 379.0,405.4 373.6,398.0 366.3,394.5 359.0,387.2 353.6,393.6 348.0,394.5 340.9,394.5 337.3,387.2 344.5,389.0 350.0,383.6 348.0,378.0 353.6,369.0 359.0,360.0 358.8,352.5 356.0,345.3 350.6,338.0 343.4,334.4 332.5,330.7 323.4,325.3 316.2,319.9 308.9,316.2 301.6,318.0 294.4,313.5 289.0,314.4 289.0,321.7 285.3,325.3 276.2,319.9 269.0,314.4 259.9,311.7 245.4,312.6 237.2,311.7 239.0,301.7 240.8,291.7 247.2,289.0 252.6,283.6 261.7,276.3 272.6,272.7 279.0,267.2" fill="#bfbdc8"/>
<polygon points="379.0,339.9 387.2,337.2 394.4,333.5 398.0,322.6 399.9,315.4 405.3,310.8 409.0,315.4 407.2,322.6 412.6,329.9 418.0,333.5 414.4,339.0 412.6,346.2 405.3,349.9 409.0,358.9 408.0,364.4 402.6,370.7 396.3,368.0 390.8,362.6 389.9,353.5 385.4,344.4" fill="#d3d2d9"/>
<polygon points="294.4,257.2 312.5,259.0 330.7,258.0 345.2,260.0 350.6,265.4 362.7,267.7 377.8,271.5 387.8,274.0 397.9,270.0 413.0,266.5 425.0,262.0 437.0,262.0 444.0,260.0 456.6,250.0 466.6,240.0 470.0,228.0 466.6,219.6 481.7,221.0 501.8,213.0 516.9,205.8 529.4,195.8 544.5,190.7 559.6,190.7 565.9,185.7 562.0,175.7 549.5,169.4 532.0,166.9 518.0,170.6 514.4,165.6 519.4,153.0 525.7,138.0 544.5,133.0 558.3,125.4 562.0,110.3 572.1,92.7 574.6,80.2 568.9,77.7 574.6,67.6 584.7,65.0 588.5,74.0 582.0,81.4 588.5,86.5 597.3,86.5 601.0,97.8 604.8,105.3 620.0,102.8 628.7,99.0 636.2,106.6 637.5,116.6 631.2,125.4 629.9,136.7 622.4,148.0 619.9,158.0 608.6,166.9 597.3,176.9 596.0,182.0 602.3,189.5 608.6,185.7 604.8,193.2 601.0,199.7 587.9,202.8 585.8,205.8 589.9,213.0 588.9,223.0 593.0,231.3 607.2,237.4 612.0,244.0 600.0,247.0 590.0,252.0 578.0,260.0 574.0,266.3 567.6,272.7 563.0,266.3 560.0,262.0 557.6,266.0 551.3,279.0 545.9,277.2 542.7,273.6 543.6,269.5 541.3,266.3 536.8,259.0 531.2,262.4 529.8,267.6 522.5,269.0 516.6,272.0 509.3,274.9 504.2,272.0 502.0,267.6 498.3,270.5 494.5,276.3 492.7,280.0 494.0,285.4 496.3,290.9 498.0,294.5 496.8,298.3 492.5,295.4 483.4,293.6 474.3,295.4 467.0,300.9 463.4,306.3 459.8,313.6 456.2,309.0 448.9,310.8 441.6,317.2 434.4,324.4 430.7,332.6 418.0,333.5 412.6,329.9 407.2,322.6 409.0,315.4 405.3,310.8 399.9,315.4 398.0,322.6 394.4,333.5 387.2,337.2 379.0,339.9 369.0,333.5 367.2,328.0 370.9,322.6 376.3,314.5 372.7,309.0 360.0,313.6 350.6,312.6 345.2,318.0 337.9,316.2 334.3,310.8 327.0,305.3 321.6,299.9 325.2,296.3 328.9,289.0 325.2,285.4 316.2,287.2 308.9,289.9 305.3,283.6 298.9,276.3 296.2,267.2" fill="#aeacba"/>
<polygon points="584.7,65.0 594.7,63.0 607.3,62.0 624.9,67.6 637.5,77.7 642.5,90.2 650.0,110.3 657.6,133.0 666.0,138.0 676.0,141.7 689.9,150.5 693.6,165.6 701.2,173.0 716.3,171.9 726.3,165.6 738.9,161.0 741.4,170.6 736.4,185.7 728.8,195.8 725.0,208.3 720.0,213.0 708.3,213.3 702.4,216.3 698.0,222.0 699.5,229.6 700.2,244.4 695.0,241.4 690.6,238.5 681.7,241.4 674.3,244.4 669.9,238.5 667.0,229.6 664.0,228.0 658.0,229.6 652.0,223.7 647.7,214.8 638.8,213.3 630.0,211.0 619.6,208.9 613.7,203.0 607.2,197.7 601.0,199.7 604.8,193.2 608.6,185.7 602.3,189.5 596.0,182.0 597.3,176.9 608.6,166.9 619.9,158.0 622.4,148.0 629.9,136.7 631.2,125.4 637.5,116.6 636.2,106.6 628.7,99.0 620.0,102.8 604.8,105.3 601.0,97.8 597.3,86.5 588.5,86.5 582.0,81.4 588.5,74.0" fill="#bab9c4"/>
<polygon points="601.0,199.7 607.2,197.7 613.7,203.0 619.6,208.9 630.0,211.0 638.8,213.3 647.7,214.8 652.0,223.7 658.0,229.6 664.0,228.0 667.0,229.6 669.9,238.5 674.3,244.4 681.7,241.4 690.6,238.5 695.0,241.4 700.2,244.4 699.5,248.8 693.6,251.8 687.6,253.3 684.7,256.2 681.7,259.2 675.8,262.0 672.8,266.6 666.9,269.5 664.0,272.5 663.2,275.4 658.0,274.0 652.0,271.0 649.2,272.5 644.7,275.4 640.3,279.9 637.3,284.3 633.7,280.0 629.6,274.0 627.6,264.9 620.0,254.0 612.0,244.0 607.2,237.4 593.0,231.3 588.9,223.0 589.9,213.0 585.8,205.8 587.9,202.8" fill="#c4c3cc"/>
<polygon points="551.3,279.0 557.6,266.0 560.0,262.0 563.0,266.3 567.6,272.7 574.0,266.3 578.0,260.0 590.0,252.0 600.0,247.0 612.0,244.0 620.0,254.0 627.6,264.9 629.6,274.0 633.7,280.0 637.3,284.3 631.0,288.5 625.5,292.0 619.5,296.0 609.0,301.5 598.5,306.0 591.0,311.5 588.5,313.5 586.7,308.0 585.7,305.3 587.6,300.8 591.2,297.1 594.0,292.6 592.0,289.0 588.5,285.4 583.0,284.4 577.6,286.3 574.0,289.0 568.5,294.4 564.0,296.2 560.4,297.1 561.3,295.3 558.5,290.8 555.0,286.3 553.0,282.6" fill="#807c98"/>
<polygon points="496.8,298.3 498.0,294.5 496.3,290.9 494.0,285.4 492.7,280.0 494.5,276.3 498.3,270.5 502.0,267.6 504.2,272.0 509.3,274.9 516.6,272.0 522.5,269.0 529.8,267.6 531.2,262.4 536.8,259.0 541.3,266.3 543.6,269.5 542.7,273.6 545.9,277.2 551.3,279.0 553.0,282.6 555.0,286.3 558.5,290.8 561.3,295.3 560.4,297.1 556.7,303.5 555.8,308.0 552.2,310.7 546.8,312.6 543.5,312.0 541.6,308.0 539.8,304.0 538.9,300.8 537.0,298.0 535.3,292.7 533.5,289.5 528.0,287.2 524.4,283.6 521.7,287.2 518.0,290.0 515.3,294.5 517.0,300.0 519.0,304.5 520.8,307.2 524.4,308.0 529.0,306.3 528.0,309.0 528.0,313.5 526.2,318.0 529.8,320.8 535.3,321.5 538.3,324.4 536.4,327.6 529.8,332.0 522.5,337.8 516.6,343.7 512.2,349.6 509.3,356.4 503.5,354.4 495.8,353.5 489.5,352.0 490.5,345.2 491.0,335.0 487.5,327.0 489.0,320.8 492.7,315.3 497.2,311.7 499.5,307.0 499.5,303.0" fill="#3e3963"/>
<polygon points="537.0,298.0 535.3,292.7 533.5,289.5 528.0,287.2 524.4,283.6 521.7,287.2 518.0,290.0 515.3,294.5 517.0,300.0 519.0,304.5 520.8,307.2 524.4,308.0 529.0,306.3 531.6,304.5 532.6,300.0 535.3,300.8" fill="#d2d1d9"/>
<polygon points="537.0,298.0 538.9,300.8 539.8,304.0 541.6,308.0 543.5,312.0 539.5,314.5 538.0,318.0 538.3,324.4 535.3,321.5 529.8,320.8 526.2,318.0 528.0,313.5 528.0,309.0 529.0,306.3 531.6,304.5 532.6,300.0 535.3,300.8" fill="#d2d1d9"/>
<polygon points="459.8,313.6 463.4,306.3 467.0,300.9 474.3,295.4 483.4,293.6 492.5,295.4 496.8,298.3 499.5,303.0 499.5,307.0 497.2,311.7 492.7,315.3 489.0,320.8 487.5,327.0 491.0,335.0 490.5,345.2 489.5,352.0 489.0,361.2 482.4,368.9 470.8,374.7 459.3,377.5 450.0,381.5 448.9,378.9 452.5,368.0 451.6,355.3 453.4,342.6 452.5,331.7 456.2,322.6" fill="#a6a4b6"/>
<polygon points="418.0,333.5 430.7,332.6 434.4,324.4 441.6,317.2 448.9,310.8 456.2,309.0 459.8,313.6 456.2,322.6 452.5,331.7 453.4,342.6 451.6,355.3 452.5,368.0 448.9,378.9 450.0,381.5 453.4,390.0 458.0,399.0 457.0,402.6 446.2,402.6 440.7,404.5 446.2,409.0 442.5,412.6 440.7,418.0 442.5,423.5 437.0,421.7 428.0,421.7 424.4,418.0 417.0,414.4 409.9,411.7 402.6,409.0 393.5,407.2 395.3,401.7 399.0,396.3 404.4,392.7 402.6,385.4 403.5,375.0 409.9,373.6 420.7,371.8 428.9,369.8 430.7,362.6 429.8,355.3 419.9,348.0 412.6,346.2 414.4,339.0" fill="#bebcc8"/>
<polygon points="538.3,324.4 544.4,326.0 550.3,329.0 553.2,333.5 556.1,339.3 562.0,337.8 567.8,334.9 573.7,333.5 579.6,336.4 585.4,340.0 594.2,341.5 596.0,343.9 588.2,347.7 578.6,351.6 570.9,357.3 565.1,365.0 559.4,371.0 555.3,374.5 553.0,376.8 548.6,381.3 544.0,384.6 539.5,381.3 535.0,383.5 530.5,381.3 527.2,377.3 523.0,379.5 519.0,382.2 515.1,381.4 511.2,377.5 505.5,372.7 509.3,367.0 515.1,361.2 517.0,358.3 509.3,356.4 512.2,349.6 516.6,343.7 522.5,337.8 529.8,332.0 536.4,327.6" fill="#807c98"/>
<polygon points="489.5,352.0 495.8,353.5 503.5,354.4 509.3,356.4 517.0,358.3 515.1,361.2 509.3,367.0 505.5,372.7 511.2,377.5 515.1,381.4 518.5,385.0 516.0,389.0 512.5,391.4 510.3,396.0 509.0,401.5 504.6,403.8 506.9,408.3 512.5,411.7 517.0,412.8 517.0,418.4 513.6,424.0 504.6,426.3 499.0,421.8 493.0,425.0 485.0,425.0 475.0,418.0 468.0,410.0 460.7,405.4 457.0,402.6 458.0,399.0 453.4,390.0 450.0,381.5 459.3,377.5 470.8,374.7 482.4,368.9 489.0,361.2" fill="#aaa8b9"/>
<polygon points="555.3,374.5 559.8,380.0 566.6,386.9 571.0,393.6 574.5,401.5 579.0,409.4 582.5,415.0 579.0,419.5 573.0,416.5 570.5,417.5 572.2,419.5 576.7,423.0 576.7,428.6 576.0,433.0 572.8,432.4 571.0,424.0 566.6,426.3 562.0,428.6 557.4,428.6 553.0,425.2 548.6,420.7 547.4,417.3 550.8,412.8 555.3,410.5 553.0,407.2 548.6,405.0 544.0,401.5 543.0,397.0 539.5,391.4 535.0,389.0 529.4,386.9 525.0,382.4 523.0,379.5 527.2,377.3 530.5,381.3 535.0,383.5 539.5,381.3 544.0,384.6 548.6,381.3 553.0,376.8" fill="#5f5a7f"/>
<polygon points="582.5,415.0 588.0,420.0 592.0,427.0 588.0,433.0 581.0,436.5 577.0,435.0 572.8,432.4 576.0,433.0 576.7,428.6 576.7,423.0 572.2,419.5 570.5,417.5 573.0,416.5 579.0,419.5" fill="#c0bfc9"/>
<polygon points="515.1,381.4 519.0,382.2 523.0,379.5 525.0,382.4 529.4,386.9 535.0,389.0 539.5,391.4 543.0,397.0 544.0,401.5 548.6,405.0 553.0,407.2 555.3,410.5 550.8,412.8 547.4,417.3 548.6,420.7 553.0,425.2 557.4,428.6 555.5,436.3 551.7,444.0 547.8,451.7 546.0,453.0 542.0,451.0 536.3,449.0 530.5,450.0 524.7,447.0 517.0,445.0 518.2,444.3 516.0,437.6 518.2,433.0 517.0,428.6 513.6,424.0 517.0,418.4 517.0,412.8 512.5,411.7 506.9,408.3 504.6,403.8 509.0,401.5 510.3,396.0 512.5,391.4 516.0,389.0 518.5,385.0" fill="#a3a0b4"/>
<polygon points="442.5,423.5 440.7,418.0 442.5,412.6 446.2,409.0 440.7,404.5 446.2,402.6 457.0,402.6 460.7,405.4 468.0,410.0 475.0,418.0 485.0,425.0 493.0,425.0 499.0,421.8 504.6,426.3 513.6,424.0 517.0,428.6 518.2,433.0 516.0,437.6 518.2,444.3 517.0,445.0 513.0,450.0 507.0,455.4 499.3,459.3 495.5,464.0 489.7,459.3 482.0,457.0 470.0,458.0 455.0,453.5 445.4,449.6 438.7,455.4 436.0,456.0 431.6,450.7 428.5,446.0 431.6,443.0 438.9,441.0 448.0,438.0 447.0,428.0" fill="#b4b2c0"/>
<polygon points="428.0,421.7 437.0,421.7 442.5,423.5 447.0,428.0 448.0,438.0 438.9,441.0 431.6,443.0 428.5,446.0 431.6,450.7 436.0,456.0 437.5,464.0 435.8,472.2 430.6,470.0 426.9,464.8 424.0,460.4 418.0,458.9 412.1,462.6 406.2,466.3 398.8,466.3 392.9,468.5 399.0,463.4 393.5,459.8 389.9,454.4 390.8,447.0 395.3,441.7 402.6,443.5 409.9,441.7 415.3,436.2 420.7,432.6 424.4,427.0" fill="#bebcc8"/>
<polygon points="348.0,394.5 353.6,393.6 359.0,387.2 366.3,394.5 373.6,398.0 379.0,405.4 384.4,409.0 393.5,407.2 402.6,409.0 409.9,411.7 417.0,414.4 424.4,418.0 428.0,421.7 424.4,427.0 420.7,432.6 415.3,436.2 409.9,441.7 402.6,443.5 395.3,441.7 390.8,447.0 389.9,454.4 393.5,459.8 399.0,463.4 392.9,468.5 394.4,470.7 401.8,472.2 401.8,476.6 394.0,477.5 387.0,478.5 385.5,477.4 381.0,475.0 379.6,469.2 378.0,466.3 372.2,466.3 369.2,472.2 364.8,479.6 360.4,487.0 360.4,494.4 350.0,500.3 340.0,487.9 330.0,475.0 322.5,465.0 315.0,466.5 311.0,465.0 312.5,450.0 310.0,430.0 305.0,415.0 294.9,410.0 297.0,400.0 301.0,394.5 308.0,397.0 314.0,404.0 322.0,410.0 330.0,412.6 339.0,407.2 337.3,401.7 344.5,399.0" fill="#a3a1b4"/>
<polygon points="392.9,468.5 398.8,466.3 406.2,466.3 412.1,462.6 418.0,458.9 424.0,460.4 426.9,464.8 430.6,470.0 435.8,472.2 437.3,479.6 434.3,486.2 438.8,490.0 438.8,500.3 428.4,507.7 419.5,512.1 410.7,507.7 398.8,513.6 384.0,518.0 381.0,513.6 379.6,504.7 376.6,497.3 370.7,492.9 370.7,487.0 373.7,484.0 380.0,481.0 387.0,478.5 394.0,477.5 401.8,476.6 401.8,472.2 394.4,470.7" fill="#b7b5c2"/>
<polygon points="387.0,478.5 380.0,481.0 373.7,484.0 370.7,487.0 370.7,492.9 376.6,497.3 379.6,504.7 381.0,513.6 384.0,518.0 385.5,524.0 395.9,527.0 398.8,532.8 394.4,537.3 390.0,537.2 380.0,540.5 373.3,543.9 368.8,542.8 363.2,545.0 357.6,543.9 353.0,546.2 346.3,549.5 344.0,554.0 345.7,561.4 342.4,561.9 339.5,555.2 335.0,558.0 328.3,558.6 323.8,552.9 318.2,549.5 320.4,541.7 314.2,536.0 312.5,529.3 305.8,524.2 299.6,525.9 297.9,520.3 301.3,514.6 308.0,506.8 311.4,500.0 312.5,487.9 306.0,475.0 311.0,465.0 315.0,466.5 322.5,465.0 330.0,475.0 340.0,487.9 350.0,500.3 360.4,494.4 360.4,487.0 364.8,479.6 369.2,472.2 372.2,466.3 378.0,466.3 379.6,469.2 381.0,475.0 385.5,477.4" fill="#9f9cb0"/>
<polygon points="436.0,456.0 438.7,455.4 445.4,449.6 455.0,453.5 470.0,458.0 482.0,457.0 489.7,459.3 495.5,464.0 495.5,472.7 489.7,478.5 491.6,488.1 495.5,495.8 493.5,505.5 489.7,509.3 482.0,511.2 476.2,515.1 472.8,514.5 469.0,520.0 463.9,519.5 458.0,515.0 461.0,509.2 460.2,498.8 453.6,497.3 444.7,500.3 438.8,500.3 438.8,490.0 434.3,486.2 437.3,479.6 435.8,472.2 437.5,464.0" fill="#b0aebc"/>
<polygon points="495.5,464.0 499.3,459.3 507.0,455.4 513.0,450.0 517.0,445.0 524.7,447.0 530.5,450.0 536.3,449.0 542.0,451.0 546.0,453.0 543.6,455.4 545.5,461.2 545.5,470.8 539.7,476.6 532.0,480.4 526.3,488.1 522.4,495.8 518.6,505.5 516.6,513.2 514.7,518.9 507.0,518.9 499.3,520.9 497.4,517.0 501.2,513.2 499.3,509.3 493.5,505.5 495.5,495.8 491.6,488.1 489.7,478.5 495.5,472.7" fill="#aeacba"/>
<polygon points="581.0,436.5 577.0,438.5 583.0,438.0 590.0,437.0 595.5,440.0 592.0,446.0 588.0,455.5 586.0,465.0 580.0,473.5 573.0,482.0 568.6,484.3 562.8,486.2 553.2,482.4 549.4,474.7 545.5,470.8 545.5,461.2 543.6,455.4 546.0,453.0 547.8,451.7 551.7,444.0 555.5,436.3 557.4,428.6 562.0,428.6 566.6,426.3 571.0,424.0 572.8,432.4 577.0,435.0" fill="#bdbbc7"/>
<polygon points="568.6,484.3 564.8,493.9 560.9,503.5 555.1,511.2 549.4,517.0 541.7,524.7 534.0,530.5 530.1,532.4 528.2,524.7 520.5,520.9 514.7,518.9 516.6,513.2 518.6,505.5 522.4,495.8 526.3,488.1 532.0,480.4 539.7,476.6 545.5,470.8 549.4,474.7 553.2,482.4 562.8,486.2" fill="#b9b7c4"/>
<polygon points="530.1,532.4 522.4,538.2 514.7,542.0 507.0,544.9 499.3,547.8 491.6,549.7 483.9,553.6 474.3,557.4 464.7,559.4 458.6,559.8 452.0,562.0 449.5,567.0 450.8,573.0 448.6,575.2 445.9,571.3 443.9,565.4 443.0,559.5 445.5,556.0 451.2,549.7 458.9,542.0 464.7,532.4 468.5,524.0 469.0,520.0 472.8,514.5 476.2,515.1 482.0,511.2 489.7,509.3 493.5,505.5 499.3,509.3 501.2,513.2 497.4,517.0 499.3,520.9 507.0,518.9 514.7,518.9 520.5,520.9 528.2,524.7" fill="#a4a2b5"/>
<polygon points="443.0,559.5 436.6,557.9 430.8,555.9 424.9,556.9 419.0,557.9 412.2,554.9 408.3,551.0 406.4,543.2 399.5,539.3 394.4,537.3 398.8,532.8 395.9,527.0 385.5,524.0 384.0,518.0 398.8,513.6 410.7,507.7 419.5,512.1 428.4,507.7 438.8,500.3 444.7,500.3 453.6,497.3 460.2,498.8 461.0,509.2 458.0,515.0 463.9,519.5 469.0,520.0 468.5,524.0 464.7,532.4 458.9,542.0 451.2,549.7 445.5,556.0" fill="#a4a2b5"/>
<polygon points="430.3,588.8 435.2,582.0 443.0,579.0 450.8,577.6 457.6,579.0 458.6,583.0 454.7,590.8 448.8,598.6 441.0,602.5 434.2,599.6 430.3,594.7" fill="#c6c5ce"/>
</g>
<polyline points="59,365.7 66,363.2 72.9,362.6 79,362.4 85.4,362.8 88.2,365 89,369" fill="none" stroke="#55555f" stroke-width="1" stroke-dasharray="3 2"/>
<g fill="#0f9bdc">
<circle cx="147.5" cy="282" r="2"/>
<circle cx="277.8" cy="365.3" r="1.6"/>
<circle cx="349.2" cy="330.2" r="3"/>
<circle cx="399.5" cy="342.2" r="2"/>
<circle cx="432.2" cy="372.4" r="3.9"/>
<circle cx="473" cy="337.4" r="2.6"/>
<circle cx="492.5" cy="234.5" r="2.5"/>
<circle cx="659.3" cy="168.8" r="3.4"/>
<circle cx="596.5" cy="282.6" r="3.4"/>
<circle cx="523" cy="296.3" r="5.3"/>
<circle cx="534" cy="311.6" r="3"/>
<circle cx="506" cy="311.5" r="3.7"/>
<circle cx="547.8" cy="353.9" r="5.9"/>
<circle cx="489" cy="392.5" r="7.1"/>
<circle cx="560.3" cy="405.5" r="4.8"/>
<circle cx="532.6" cy="421.2" r="6.2"/>
<circle cx="584.5" cy="429.8" r="4.6"/>
<circle cx="571.3" cy="457.3" r="8.5"/>
<circle cx="473.4" cy="434" r="27.8"/>
<circle cx="466.4" cy="480.3" r="7.3"/>
<circle cx="514.3" cy="480.2" r="5.4"/>
<circle cx="543.6" cy="501.4" r="4.6"/>
<circle cx="486.2" cy="538.4" r="8"/>
<circle cx="431" cy="530.9" r="4"/>
<circle cx="420.2" cy="445.7" r="6"/>
<circle cx="357.6" cy="438" r="5.6"/>
<circle cx="408" cy="491" r="1.5"/>
<circle cx="343.2" cy="515.5" r="3.9"/>
<circle cx="442.7" cy="589.8" r="3.2"/>
<circle cx="488.7" cy="552.2" r="1"/>
<circle cx="496" cy="551.3" r="1.5"/>
</g>
</g>
<g stroke="#d9a51f" stroke-width="3.4" fill="none" stroke-linecap="butt" stroke-linejoin="miter">
<path d="M487.7 287.2 L515 303.6"/><path d="M509.6 292.6 L516.2 304.4 L503.2 304.8" stroke-width="3.6"/>
<path d="M560.2 263 L549.6 299"/><path d="M545 289.6 L549.3 300.6 L559.2 293.2" stroke-width="3.6"/>
<path d="M612 425.6 L586 417"/><path d="M597.4 413 L584.8 416.6 L592.8 426.6" stroke-width="3.4"/>
</g>
<rect x="411.7" y="262.3" width="76.6" height="26.3" fill="#d9a51f"/>
<rect x="538.2" y="238.4" width="108.1" height="25.7" fill="#d9a51f"/>
<rect x="612.9" y="414.2" width="103.9" height="25.5" fill="#d9a51f"/>
<g font-size="16.4" fill="#3a3f5e">
<text x="424.8" y="281.1" font-size="17" textLength="49.3" lengthAdjust="spacingAndGlyphs">Beijing</text>
<text x="555.4" y="257.7" textLength="73.4" lengthAdjust="spacing">Tangshan</text>
<text x="629.5" y="432.4" textLength="68.4" lengthAdjust="spacing">Shanghai</text>
</g>
<rect x="628.8" y="471.7" width="240.7" height="52.8" fill="#a8adba"/>
<rect x="628.8" y="528.8" width="240.7" height="108.2" fill="#a8adba"/>
<g font-size="19.72" font-weight="bold" fill="#26262e">
<text x="640.5" y="489">Coronavirus infections</text>
<text x="640.5" y="549.3">Crude steel capacity</text>
</g>
<circle cx="657.5" cy="511.8" r="5.8" fill="#0f9bdc"/>
<g font-size="20" fill="#ffffff">
<text x="681" y="516.4" textLength="31" lengthAdjust="spacingAndGlyphs">100</text>
<text x="680.6" y="576" textLength="65.2" lengthAdjust="spacingAndGlyphs">Highest</text>
<text x="680.9" y="624.2" textLength="61.6" lengthAdjust="spacingAndGlyphs">Lowest</text>
</g>
<rect x="642.8" y="562.4" width="29.2" height="70" fill="url(#sw)"/>
</g>
</svg>
<div id="foot">DATA: CRU, NBS, John Hopkins CSSE, Map: Bing, © Here 2019. Note: mainland China only. Steel production data is for 2019.</div>
</body></html>
